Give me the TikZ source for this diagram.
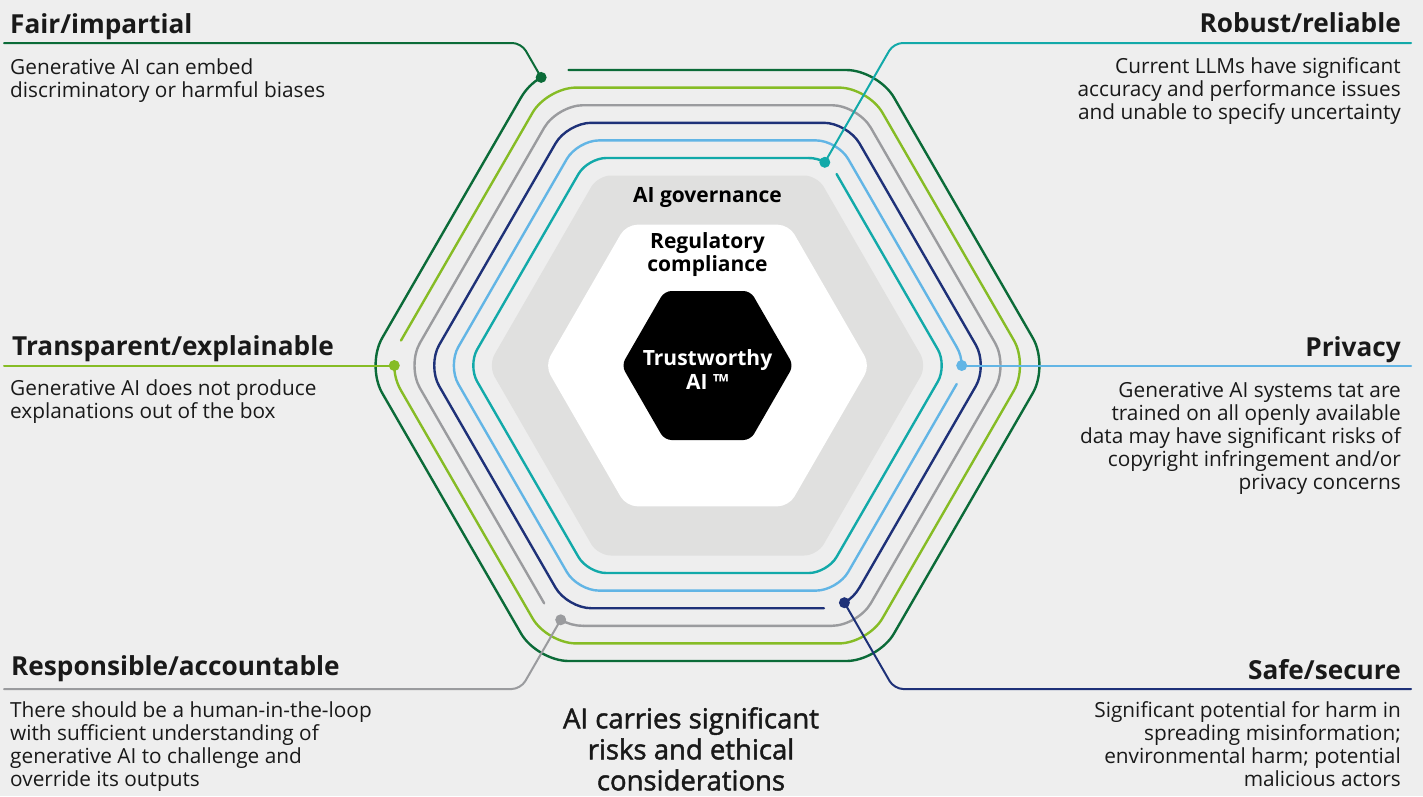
\documentclass[tikz,border=0pt]{standalone}
\usepackage{fontspec}
\setmainfont{Open Sans}
\newfontfamily\semib{Open Sans}[FakeBold=1.6]
\usetikzlibrary{calc}
\definecolor{bgc}{HTML}{EEEEEE}
\definecolor{hexgray}{HTML}{E0E0DF}
\definecolor{cdgreen}{HTML}{0B6B38}
\definecolor{clgreen}{HTML}{86BC25}
\definecolor{cgray}{HTML}{9A9B9E}
\definecolor{cnavy}{HTML}{1E3178}
\definecolor{clblue}{HTML}{62B5E5}
\definecolor{cteal}{HTML}{12A9A9}
\tikzset{
  hexline/.style={line width=2.4pt, line cap=round, line join=round},
  conn/.style={line width=2pt, rounded corners=9pt, line cap=round},
  dotn/.style={circle, fill=#1, draw=none, inner sep=0pt, minimum size=11pt},
  ttl/.style={font=\bfseries\fontsize{26.2}{30}\selectfont, inner sep=0pt, text=black!90},
  bodytxt/.style={font=\fontsize{20.8}{23}\selectfont, inner sep=0pt, text=black!90},
  innertxt/.style={font=\bfseries\fontsize{21}{23.5}\selectfont, inner sep=0pt, align=center},
}
\begin{document}
\begin{tikzpicture}[x=1pt,y=-1pt]
\useasboundingbox (0,0) rectangle (1423,796);
\fill[bgc] (0,0) rectangle (1423,796);

% filled hexagons
\fill[hexgray, rounded corners=13pt] (707.5,175.5) -- (817.2,175.5) -- (926.9,365.5) -- (817.2,555.5) -- (597.8,555.5) -- (488.1,365.5) -- (597.8,175.5) -- cycle;
\fill[white, rounded corners=11pt] (707.5,224.7) -- (788.8,224.7) -- (870.1,365.5) -- (788.8,506.3) -- (626.2,506.3) -- (544.9,365.5) -- (626.2,224.7) -- cycle;
\fill[black, rounded corners=7pt] (707.5,291) -- (750.5,291) -- (793.5,365.5) -- (750.5,440) -- (664.5,440) -- (621.5,365.5) -- (664.5,291) -- cycle;

% teal
\draw[hexline, cteal, rounded corners=18.5pt] (836.55,174.0) -- (947.1,365.5) -- (827.3,573) -- (587.7,573) -- (467.9,365.5) -- (587.7,158) -- (808.8,158);
\draw[hexline, cteal] (808.8,158) arc[start angle=-90, end angle=-60, radius=32];
% light blue
\draw[hexline, clblue, rounded corners=21.4pt] (956.7,384.0) -- (837.45,590.6) -- (577.55,590.6) -- (447.6,365.5) -- (577.55,140.4) -- (837.45,140.4) -- (956.7,347.0);
\draw[hexline, clblue] (956.7,347.0) arc[start angle=-30, end angle=0, radius=37];
% navy
\draw[hexline, cnavy, rounded corners=23.7pt] (859.45,587.7) -- (987.7,365.5) -- (847.6,122.8) -- (567.4,122.8) -- (427.3,365.5) -- (567.4,608.2) -- (823.9,608.2);
\draw[hexline, cnavy] (844.4,602.7) arc[start angle=60, end angle=30, radius=41];
% gray
\draw[hexline, cgray, rounded corners=26pt] (583.2,625.8) -- (857.8,625.8) -- (1008.1,365.5) -- (857.8,105.2) -- (557.2,105.2) -- (406.9,365.5) -- (544.2,603.3);
\draw[hexline, cgray] (560.7,619.8) arc[start angle=120, end angle=90, radius=45];
% light green
\draw[hexline, clgreen, rounded corners=28.9pt] (401,390.5) -- (547.05,643.4) -- (867.95,643.4) -- (1028.4,365.5) -- (867.95,87.6) -- (547.05,87.6) -- (401,340.5);
\draw[hexline, clgreen] (394.3,365.5) arc[start angle=180, end angle=150, radius=50];
% dark green
\draw[hexline, cdgreen, rounded corners=31.75pt] (521.0,97.5) -- (366.3,365.5) -- (536.9,661) -- (878.1,661) -- (1048.7,365.5) -- (878.1,70) -- (568.65,70);
\draw[hexline, cdgreen] (541.15,77.4) arc[start angle=-120, end angle=-150, radius=55];

% dots
\node[dotn=cdgreen] (d1) at (541.15,77.4) {};
\node[dotn=cteal] (d2) at (824.8,162.3) {};
\node[dotn=clgreen] (d3) at (394.3,365.5) {};
\node[dotn=clblue] (d4) at (961.7,365.5) {};
\node[dotn=cnavy] (d5) at (844.4,602.7) {};
\node[dotn=cgray] (d6) at (560.7,619.8) {};

% connector ends and bends
\coordinate (k1) at (521.3,43); \coordinate (e1) at (4,43);
\coordinate (k2) at (893.7,43); \coordinate (e2) at (1411,43);
\coordinate (e3) at (4,365.5);
\coordinate (e4) at (1411,365.5);
\coordinate (k5) at (894.2,689); \coordinate (e5) at (1411,689);
\coordinate (k6) at (520.7,689); \coordinate (e6) at (4,689);

\draw[conn, cdgreen] (d1.center) -- (k1) -- (e1);
\draw[conn, cteal] (d2.center) -- (k2) -- (e2);
\draw[conn, clgreen] (d3.center) -- (e3);
\draw[conn, clblue] (d4.center) -- (e4);
\draw[conn, cnavy] (d5.center) -- (k5) -- (e5);
\draw[conn, cgray] (d6.center) -- (k6) -- (e6);

% texts (base anchor = baseline of last line)
\node[ttl, anchor=base west] (t1) at (10,33.3) {Fair/impartial};
\node[bodytxt, anchor=base west, align=left] (b1) at (10,97.2) {Generative AI can embed\\discriminatory or harmful biases};
\node[ttl, anchor=base east] (t2) at (1401,32.5) {Robust/reliable};
\node[bodytxt, anchor=base east, align=right] (b2) at (1401,119.8) {Current LLMs have significant\\accuracy and performance issues\\and unable to specify uncertainty};
\node[ttl, anchor=base west] (t3) at (12,355.5) {Transparent/explainable};
\node[bodytxt, anchor=base west, align=left] (b3) at (10,418.5) {Generative AI does not produce\\explanations out of the box};
\node[ttl, anchor=base east] (t4) at (1401,356.5) {Privacy};
\node[bodytxt, anchor=base east, align=right] (b4) at (1401,489.5) {Generative AI systems tat are\\trained on all openly available\\data may have significant risks of\\copyright infringement and/or\\privacy concerns};
\node[ttl, anchor=base east] (t5) at (1401,679) {Safe/secure};
\node[bodytxt, anchor=base east, align=right] (b5) at (1401,786.5) {Significant potential for harm in\\spreading misinformation;\\environmental harm; potential\\malicious actors};
\node[ttl, anchor=base west] (t6) at (11,675.5) {Responsible/accountable};
\node[bodytxt, anchor=base west, align=left] (b6) at (10,786.2) {There should be a human-in-the-loop\\with sufficient understanding of\\generative AI to challenge and\\override its outputs};
\node[anchor=base, align=center, inner sep=0pt, text=black!90, font=\semib\fontsize{27.5}{31}\selectfont] (ct) at (691,790.3) {AI carries significant\\risks and ethical\\considerations};

\node[innertxt, anchor=base] (gov) at (707.5,202.7) {AI governance};
\node[innertxt, anchor=base] (reg) at (707.5,271.5) {Regulatory\\compliance};
\node[innertxt, anchor=base, text=white] (tw) at (707.5,389.2) {Trustworthy\\AI ™};
\end{tikzpicture}
\end{document}
